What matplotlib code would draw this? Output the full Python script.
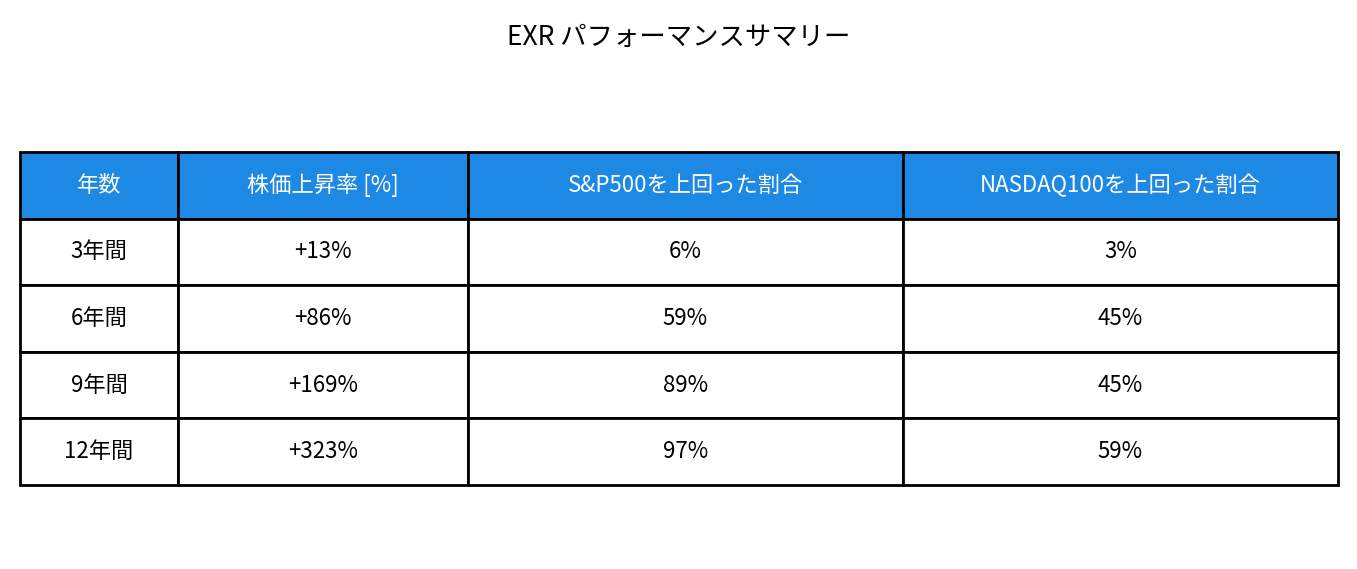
import matplotlib
matplotlib.use("Agg")
import matplotlib.pyplot as plt

plt.rcParams['font.family'] = ['Noto Sans CJK JP', 'DejaVu Sans']

title = "EXR パフォーマンスサマリー"
columns = ["年数", "株価上昇率 [%]", "S&P500を上回った割合", "NASDAQ100を上回った割合"]
years = ["3年間", "6年間", "9年間", "12年間"]
growth = ["+13%", "+86%", "+169%", "+323%"]
beat_sp = ["6%", "59%", "89%", "97%"]
beat_nq = ["3%", "45%", "45%", "59%"]

W, H = 1357, 569
fig = plt.figure(figsize=(W/100, H/100), dpi=100)
ax = fig.add_axes([0, 0, 1, 1])
ax.axis('off')

rows = [list(r) for r in zip(years, growth, beat_sp, beat_nq)]
edges = [20, 178, 468, 903, 1338]
widths = [(edges[i+1]-edges[i])/(edges[-1]-edges[0]) for i in range(4)]
top, bottom = 152, 485
tbl = ax.table(cellText=rows, colLabels=columns, colWidths=widths, cellLoc='center',
               bbox=[edges[0]/W, 1-bottom/H, (edges[-1]-edges[0])/W, (bottom-top)/H])
tbl.auto_set_font_size(False)
for (r, c), cell in tbl.get_celld().items():
    cell.set_linewidth(2)
    cell.set_edgecolor('black')
    cell.get_text().set_fontsize(16)
    if r == 0:
        cell.set_facecolor('#1E88E5')
        cell.get_text().set_color('white')
    else:
        cell.set_facecolor('white')

fig.text(0.5, 1-37/H, title, ha='center', va='center', fontsize=19)
fig.savefig("out.png", dpi=100)
